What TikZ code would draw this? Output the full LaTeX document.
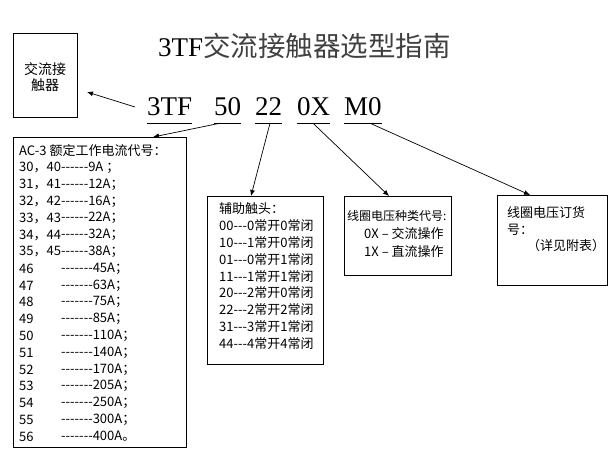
\documentclass[tikz,border=0pt]{standalone}
\usepackage{fontspec}
\setmainfont{Liberation Serif}
\newfontfamily\cjk{Noto Sans CJK SC}
\usetikzlibrary{arrows.meta}

\begin{document}
\begin{tikzpicture}[x=1pt,y=-1pt,
    box/.style={draw, line width=0.9pt, anchor=north west, inner sep=0pt},
    txt/.style={anchor=west, inner sep=0pt, font=\cjk\fontsize{13}{16}\selectfont},
    code/.style={anchor=base west, inner sep=0pt, text depth=8pt, font=\fontsize{27}{30}\selectfont},
    conn/.style={line width=0.7pt, -{Latex[length=6pt,width=5pt]}}]
    \useasboundingbox (0,0) rectangle (615,459);
    % title
    \node[anchor=base west, inner sep=0pt, font=\fontsize{27}{30}\selectfont] (title) at (158,56)
        {3TF{\cjk\fontsize{27.5}{30}\selectfont\color{black!75}交流接触器选型指南}};
    % boxes
    \node[box, minimum width=64, minimum height=84] (contactor) at (13,33) {};
    \node[box, minimum width=173, minimum height=310] (acbox) at (13,137) {};
    \node[box, minimum width=116, minimum height=168] (auxbox) at (207,196) {};
    \node[box, minimum width=107, minimum height=79] (coilbox) at (344,196) {};
    \node[box, minimum width=110, minimum height=90] (orderbox) at (497,195) {};
    \node[inner sep=0pt, align=center, font=\cjk\fontsize{14}{16}\selectfont] (contactortext) at (45,77) {交流接\\触器};
    % code line
    \node[code] (c3tf) at (147,115) {3TF};
    \node[code] (c50) at (214,115) {50};
    \node[code] (c22) at (255,115) {22};
    \node[code] (c0x) at (297,115) {0X};
    \node[code] (cm0) at (344,115) {M0};
    \foreach \n in {c3tf,c50,c22,c0x,cm0}
        \draw[line width=0.8pt] (\n.south west) -- (\n.south east);
    % current codes
    \node[txt] (ac0) at (19,151) {AC-3 额定工作电流代号：};
    \foreach \a/\b [count=\i] in {30，40/------9A ；,31，41/------12A；,32，42/------16A；,
        33，43/------22A；,34，44/------32A；,35，45/------38A；,46/-------45A；,
        47/-------63A；,48/-------75A；,49/-------85A；,50/-------110A；,
        51/-------140A；,52/-------170A；,53/-------205A；,54/-------250A；,
        55/-------300A；,56/-------400A。}{
        \node[txt] (ac\i l) at (19,151+16.8*\i) {\a};
        \node[txt] (ac\i r) at (61,151+16.8*\i) {\b};
    }
    % auxiliary contacts
    \node[txt] (aux0) at (219,209) {辅助触头：};
    \foreach \a [count=\i] in {00---0常开0常闭,10---1常开0常闭,01---0常开1常闭,11---1常开1常闭,
        20---2常开0常闭,22---2常开2常闭,31---3常开1常闭,44---4常开4常闭}
        \node[txt] (aux\i) at (219,209+16.8*\i) {\a};
    % coil type
    \node[txt, font=\cjk\fontsize{12}{16}\selectfont] (coil0) at (347,216) {线圈电压种类代号:};
    \node[txt] (coil1) at (364,234) {0X – 交流操作};
    \node[txt] (coil2) at (364,252) {1X – 直流操作};
    % order number
    \node[txt] (order0) at (507,213) {线圈电压订货};
    \node[txt] (order1) at (507,230) {号：};
    \node[txt] (order2) at (527,246) {（详见附表）};
    % connectors
    \coordinate (contactortip) at (87,92);
    \draw[conn] ([xshift=-12pt,yshift=8pt]c3tf.base west) -- (contactortip);
    \draw[conn] ([xshift=6pt]c50.south west) -- ([xshift=140pt]acbox.north west);
    \draw[conn] ([xshift=15pt]c22.south west) -- ([xshift=44pt]auxbox.north west);
    \draw[conn] ([xshift=16pt]c0x.south west) -- ([xshift=45pt]coilbox.north west);
    \draw[conn] ([xshift=26pt]cm0.south west) -- ([xshift=33pt]orderbox.north west);
\end{tikzpicture}
\end{document}
